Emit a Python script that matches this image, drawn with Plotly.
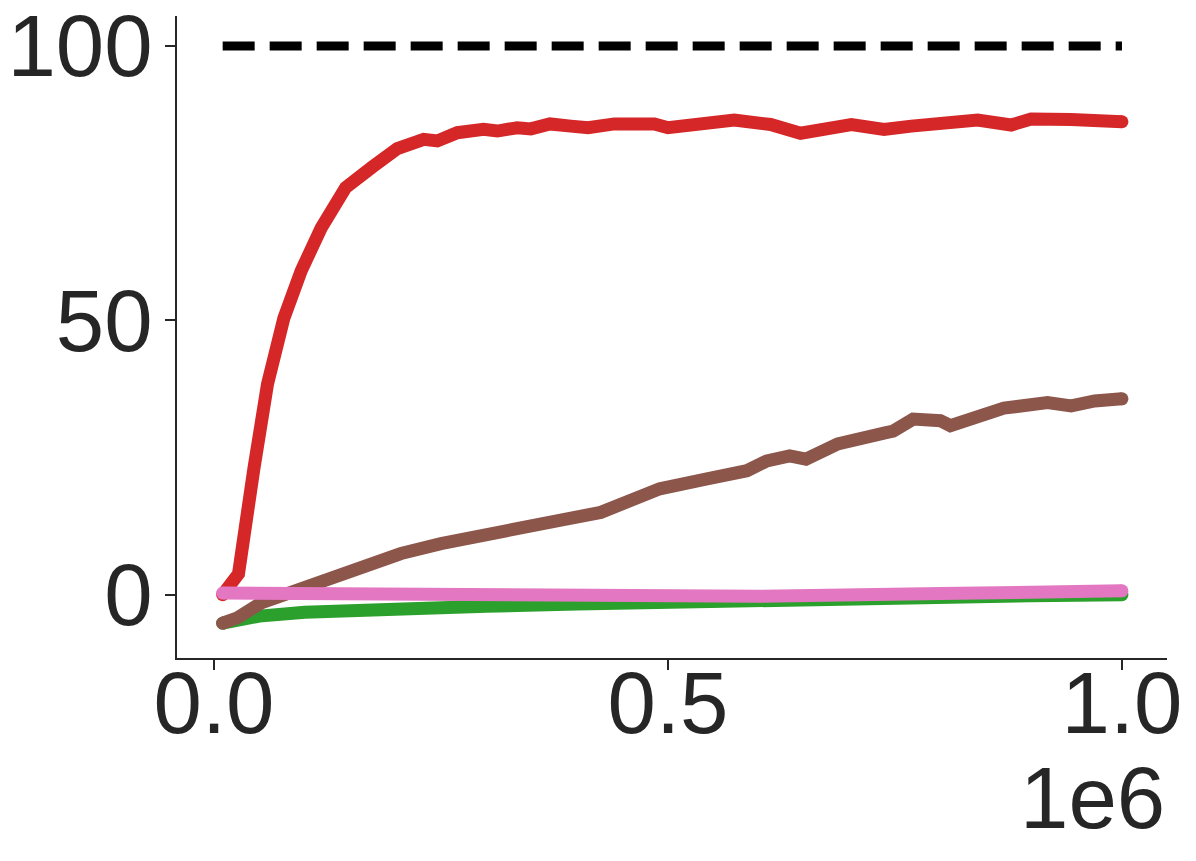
import plotly.graph_objects as go

# training curves (x in environment steps, y in score)
red_x = [0.0096e6, 0.027e6, 0.044e6, 0.059e6, 0.077e6, 0.096e6, 0.118e6, 0.145e6, 0.174e6,
         0.202e6, 0.231e6, 0.246e6, 0.268e6, 0.297e6, 0.312e6, 0.334e6, 0.349e6, 0.370e6,
         0.393e6, 0.412e6, 0.441e6, 0.485e6, 0.500e6, 0.551e6, 0.573e6, 0.613e6, 0.646e6,
         0.702e6, 0.738e6, 0.768e6, 0.841e6, 0.878e6, 0.900e6, 0.944e6, 1.0e6]
red_y = [0.0, 3.8, 23.0, 38.4, 50.4, 59.0, 66.8, 74.2, 77.9,
         81.3, 83.0, 82.7, 84.2, 84.8, 84.5, 85.1, 84.9, 85.8,
         85.4, 85.1, 85.8, 85.8, 85.1, 86.2, 86.5, 85.7, 84.1,
         85.7, 84.8, 85.4, 86.5, 85.6, 86.7, 86.6, 86.2]

brown_x = [0.0096e6, 0.026e6, 0.052e6, 0.096e6, 0.151e6, 0.206e6, 0.250e6, 0.302e6, 0.353e6,
           0.382e6, 0.426e6, 0.452e6, 0.491e6, 0.543e6, 0.587e6, 0.609e6, 0.634e6, 0.652e6,
           0.687e6, 0.739e6, 0.748e6, 0.770e6, 0.800e6, 0.811e6, 0.839e6, 0.870e6, 0.918e6,
           0.944e6, 0.970e6, 1.0e6]
brown_y = [-5.2, -4.2, -1.5, 1.2, 4.6, 7.5, 9.3, 11.2, 12.8,
           13.6, 15.0, 16.5, 19.3, 21.1, 22.6, 24.4, 25.3, 24.7,
           27.5, 29.5, 29.8, 32.0, 31.7, 30.8, 32.6, 34.0, 35.0,
           34.4, 35.3, 35.7]
brown_err = [0.2, 0.3, 0.4, 0.5, 0.6, 0.7, 0.7, 0.8, 0.8,
             0.8, 0.8, 0.8, 0.8, 0.8, 0.8, 0.8, 0.8, 0.8,
             0.8, 0.8, 0.8, 0.8, 0.8, 0.8, 0.8, 0.8, 0.8,
             0.8, 0.8, 0.8]

green_x = [0.0096e6, 0.03e6, 0.05e6, 0.1e6, 0.2e6, 0.3e6, 0.4e6, 0.5e6, 0.6e6, 0.7e6, 0.8e6, 0.9e6, 1.0e6]
green_y = [-5.2, -4.6, -3.9, -3.2, -2.5, -2.1, -1.7, -1.3, -1.0, -0.7, -0.5, -0.2, 0.0]
green_err = [0.2, 0.7, 0.7, 0.5, 0.3, 0.2, 0.2, 0.1, 0.1, 0.1, 0.1, 0.1, 0.1]

pink_x = [0.0096e6, 0.2e6, 0.4e6, 0.6e6, 0.8e6, 1.0e6]
pink_y = [0.3, 0.0, -0.3, -0.3, 0.2, 0.7]

ref_x = [0.0096e6, 1.0e6]
ref_y = [100, 100]

series = [
    (red_x, red_y, [0.4] * len(red_x), "#d62728", "rgba(214,39,40,0.25)"),
    (green_x, green_y, green_err, "#2ca02c", "rgba(44,160,44,0.25)"),
    (brown_x, brown_y, brown_err, "#8c564b", "rgba(140,86,75,0.25)"),
    (pink_x, pink_y, [0.1] * len(pink_x), "#e377c2", "rgba(227,119,194,0.25)"),
]

fig = go.Figure()

for xs, ys, err, col, band in series:
    hi = [y + e for y, e in zip(ys, err)]
    lo = [y - e for y, e in zip(ys, err)]
    fig.add_trace(go.Scatter(x=xs + xs[::-1], y=hi + lo[::-1], fill="toself",
                             fillcolor=band, line=dict(width=0), hoverinfo="skip",
                             showlegend=False))
    # round caps at both ends of each curve
    caps = [13] + [0] * (len(xs) - 2) + [13]
    fig.add_trace(go.Scatter(x=xs, y=ys, mode="lines+markers",
                             line=dict(color=col, width=13),
                             marker=dict(color=col, size=caps, opacity=1, line=dict(width=0)),
                             showlegend=False))

fig.add_trace(go.Scatter(x=ref_x, y=ref_y, mode="lines",
                         line=dict(color="black", width=9, dash="32px,15px"),
                         showlegend=False))

axis_font = dict(family="Liberation Sans, Arial, sans-serif", size=87, color="#262626")

fig.update_layout(
    width=1196,
    height=861,
    margin=dict(l=169, r=37, t=8, b=211),
    plot_bgcolor="white",
    paper_bgcolor="white",
    font=axis_font,
    xaxis=dict(
        range=[-0.0407e6, 1.0496e6],
        tickvals=[0, 0.5e6, 1.0e6],
        ticktext=["0.0", "0.5", "1.0"],
        showgrid=False, zeroline=False, automargin=False,
        showline=True, linecolor="#262626", linewidth=2,
        ticks="outside", ticklen=10, tickwidth=2, tickcolor="#262626",
        tickfont=axis_font, ticklabelstandoff=-41, ticklabeloverflow="allow",
    ),
    yaxis=dict(
        range=[-11.54, 105.47],
        tickvals=[0, 50, 100],
        ticktext=["0", "50", "100"],
        showgrid=False, zeroline=False, automargin=False,
        showline=True, linecolor="#262626", linewidth=2,
        ticks="outside", ticklen=10, tickwidth=2, tickcolor="#262626",
        tickfont=axis_font, ticklabelstandoff=-5, ticklabeloverflow="allow",
    ),
    annotations=[dict(text="1e6", x=1, xref="paper", xanchor="right",
                      y=-0.218, yref="paper", yanchor="middle",
                      showarrow=False, font=axis_font)],
)

fig.write_html("out.html")
